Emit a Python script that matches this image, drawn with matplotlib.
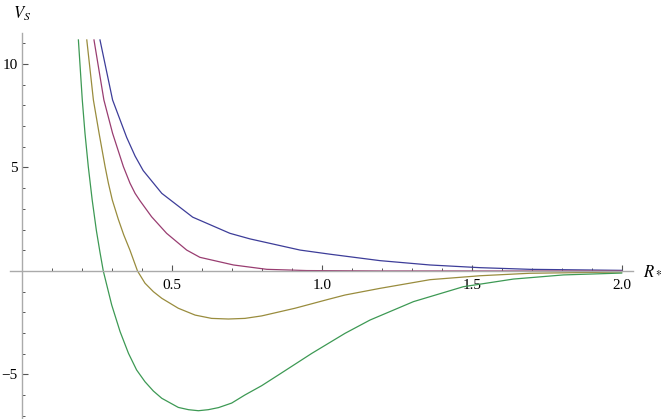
import matplotlib
matplotlib.use("Agg")
import matplotlib.pyplot as plt
from matplotlib.ticker import FixedLocator

plt.rcParams['font.family'] = ['Liberation Serif', 'DejaVu Serif']
plt.rcParams['mathtext.fontset'] = 'stix'

# values (R_*, V_S)
blue_x = [0.261, 0.303, 0.350, 0.378, 0.405, 0.467, 0.570, 0.694, 0.761, 0.928, 1.028,
          1.194, 1.361, 1.528, 1.694, 2.000]
blue_y = [11.16, 8.26, 6.45, 5.55, 4.85, 3.75, 2.60, 1.82, 1.55, 1.01, 0.81,
          0.50, 0.29, 0.16, 0.08, 0.03]

magenta_x = [0.241, 0.274, 0.303, 0.339, 0.361, 0.378, 0.394, 0.433, 0.483, 0.550, 0.594,
             0.706, 0.817, 0.950, 1.200, 2.000]
magenta_y = [11.16, 8.26, 6.65, 5.04, 4.24, 3.75, 3.40, 2.62, 1.82, 1.01, 0.66,
             0.29, 0.08, 0.02, 0.0, 0.0]

olive_x = [0.217, 0.239, 0.258, 0.278, 0.289, 0.302, 0.322, 0.340, 0.361, 0.386, 0.411,
           0.439, 0.467, 0.522, 0.578, 0.633, 0.689, 0.744, 0.800, 0.911, 1.022, 1.078,
           1.194, 1.361, 1.528, 1.694, 2.000]
olive_y = [11.16, 8.26, 6.65, 5.04, 4.24, 3.43, 2.50, 1.75, 1.00, 0.0, -0.59,
           -1.00, -1.32, -1.80, -2.13, -2.29, -2.32, -2.29, -2.17, -1.80, -1.37, -1.16,
           -0.84, -0.42, -0.23, -0.11, -0.05]

green_x = [0.189, 0.202, 0.211, 0.222, 0.235, 0.249, 0.261, 0.272, 0.300, 0.328, 0.356,
           0.383, 0.411, 0.439, 0.467, 0.522, 0.556, 0.589, 0.622, 0.656, 0.700, 0.744,
           0.800, 0.856, 0.967, 1.078, 1.161, 1.306, 1.472, 1.639, 1.806, 2.000]
green_y = [11.16, 8.26, 6.65, 5.04, 3.43, 1.95, 0.90, 0.0, -1.64, -2.93, -3.98,
           -4.78, -5.35, -5.80, -6.15, -6.59, -6.70, -6.75, -6.70, -6.60, -6.38, -5.99,
           -5.54, -5.02, -3.98, -3.01, -2.37, -1.48, -0.76, -0.39, -0.19, -0.10]

x_major = [0.5, 1.0, 1.5, 2.0]
x_labels = ['0.5', '1.0', '1.5', '2.0']
y_major = [-5, 5, 10]
y_labels = ['\u22125', '5', '10']

fig = plt.figure(figsize=(6.64, 4.19), dpi=100)
ax = fig.add_axes([0, 0, 1, 1])
ax.set_xlim(-0.0723, 2.141)
ax.set_ylim(-7.15, 13.09)

ax.plot(blue_x, blue_y, color='#3d3d99', lw=0.9)
ax.plot(magenta_x, magenta_y, color='#993d71', lw=0.9)
ax.plot(olive_x, olive_y, color='#998c3d', lw=0.9)
ax.plot(green_x, green_y, color='#3d9954', lw=0.9)

for side in ['top', 'right']:
    ax.spines[side].set_visible(False)
ax.spines['left'].set_position(('data', 0))
ax.spines['bottom'].set_position(('data', 0))
ax.spines['left'].set_bounds(-7.15, 11.5)
ax.spines['bottom'].set_bounds(-0.04, 2.038)
for side in ['left', 'bottom']:
    ax.spines[side].set_color('#aaaaaa')
    ax.spines[side].set_linewidth(1.0)

ax.xaxis.set_major_locator(FixedLocator(x_major))
ax.set_xticklabels(x_labels)
ax.xaxis.set_minor_locator(FixedLocator([i / 10 for i in range(1, 20) if i % 5]))
ax.yaxis.set_major_locator(FixedLocator(y_major))
ax.set_yticklabels(y_labels)
ax.yaxis.set_minor_locator(FixedLocator([i for i in range(-7, 12) if i not in (-5, 0, 5, 10)]))

ax.tick_params(which='major', direction='in', length=4.5, width=0.8, color='#555555', labelsize=11)
ax.tick_params(which='minor', direction='in', length=2.5, width=0.7, color='#555555')
ax.tick_params(axis='x', which='major', pad=6)
ax.tick_params(axis='y', which='major', pad=3)

fig.text(0.033, 0.968, '$V_S$', fontsize=12, ha='center', va='center')
fig.text(0.982, 0.353, '$R_*$', fontsize=12, ha='center', va='center')

fig.savefig('out.png', dpi=100)
